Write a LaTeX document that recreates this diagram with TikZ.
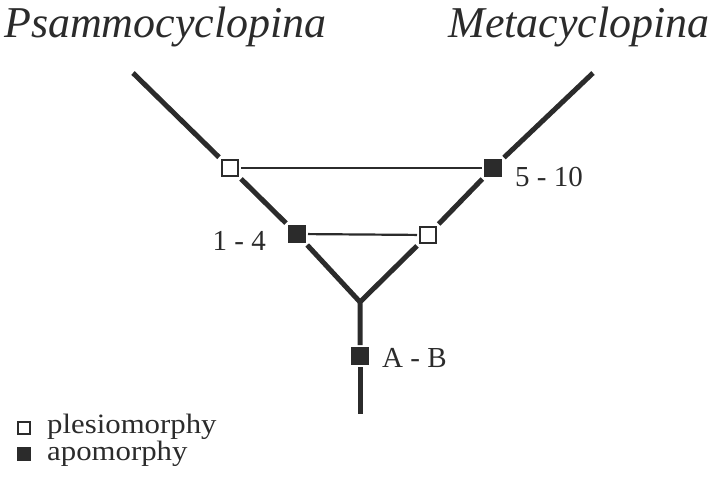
\documentclass[tikz,border=0pt]{standalone}
\usepackage{fontspec}
\setmainfont{Liberation Serif}
\newfontfamily\keyfont[FakeStretch=1.1]{Liberation Serif}
\usetikzlibrary{positioning}
\definecolor{ink}{gray}{0.17}

\begin{document}
\begin{tikzpicture}[x=1pt, y=-1pt,
		plesio/.style={draw=ink, fill=white, line width=1.8pt, minimum size=16pt, inner sep=0pt, outer sep=3pt},
		apo/.style={plesio, fill=ink},
		branch/.style={draw=ink, line width=5pt},
		link/.style={draw=ink, line width=2.2pt},
		lbl/.style={text=ink, font=\fontsize{29}{29}\selectfont, inner sep=0pt},
		keytext/.style={text=ink, font=\keyfont\fontsize{28}{28}\selectfont, inner sep=0pt},
		taxon/.style={text=ink, font=\fontsize{44}{44}\selectfont\itshape, inner sep=0pt},
		keybox/.style={draw=ink, fill=white, line width=1.2pt, minimum size=12pt, inner sep=0pt}]
		\useasboundingbox (0, 0) rectangle (713, 477);
		% taxa
		\node[taxon, anchor=base west] (psammo) at (4, 37) {Psammocyclopina};
		\node[taxon, anchor=base east] (meta) at (710, 37) {Metacyclopina};
		% character states on the branches
		\coordinate (topL) at (133, 73);
		\coordinate (topR) at (593, 73);
		\coordinate (root) at (360, 302);
		\coordinate (base) at (360, 414);
		\node[plesio] (plesL) at (230, 168) {};
		\node[apo] (apoR) at (493, 168) {};
		\node[apo] (apoL) at (297, 234) {};
		\node[plesio] (plesR) at (428, 235) {};
		\node[apo] (apoAB) at (360, 356) {};
		\draw[branch] (topL) -- (plesL);
		\draw[branch] (plesL) -- (apoL);
		\draw[branch] (apoL) -- (root);
		\draw[branch] (topR) -- (apoR);
		\draw[branch] (apoR) -- (plesR);
		\draw[branch, line join=miter] (plesR) -- (root) -- (apoAB);
		\draw[branch] (apoAB) -- (base);
		\draw[link] (plesL) -- (apoR);
		\draw[link] (apoL) -- (plesR);
		% labels
		\node[lbl, anchor=base west] (lab510) at (515, 186) {5 - 10};
		\node[lbl, anchor=base east] (lab14) at (266, 250) {1 - 4};
		\node[lbl, anchor=base west] (labAB) at (382, 367) {A - B};
		% key
		\node[keybox] (keyP) at (24, 428) {};
		\node[keybox, fill=ink] (keyA) at (24, 454) {};
		\node[keytext, anchor=base west] (txtP) at (47, 433) {plesiomorphy};
		\node[keytext, anchor=base west] (txtA) at (47, 460) {apomorphy};
	\end{tikzpicture}
\end{document}
